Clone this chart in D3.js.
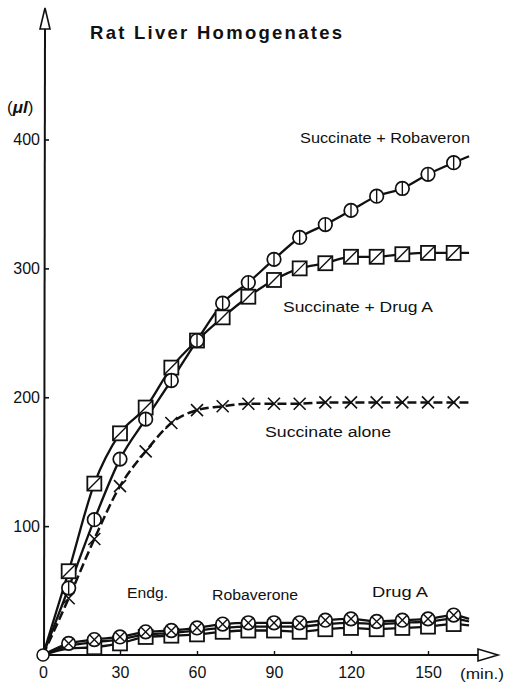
<!DOCTYPE html>
<html>
<head>
<meta charset="utf-8">
<script src="https://cdn.jsdelivr.net/npm/d3@7"></script>
<style>
  body { margin: 0; background: #fff; }
  svg text { font-family: "Liberation Sans", Arial, sans-serif; fill: #111; }
</style>
</head>
<body>
<div id="chart"></div>
<script>
// time points (min.), 0 is the origin and 166 the end of the drawn curves
var times = [0, 10, 20, 30, 40, 50, 60, 70, 80, 90, 100, 110, 120, 130, 140, 150, 160, 166];

// uptake (µl)
var succRobaveron = [0, 52, 105, 152, 183, 213, 244, 273, 289, 307, 324, 334, 345, 356, 362, 373, 382, 387];
var succDrugA     = [0, 65, 133, 172, 192, 223, 244, 262, 278, 291, 300, 304, 309, 309, 311, 312, 312, 312];
var succAlone     = [0, 44, 90, 131, 158, 180, 190, 193, 195, 195, 195, 196, 196, 196, 196, 196, 196, 196];
var robaverone    = [0, 9, 12, 14, 18, 19, 21, 24, 25, 25, 25, 27, 28, 26, 27, 28, 31, 28];
var drugA         = [0, 7, 10, 12, 16, 17, 19, 21, 22, 22, 22, 24, 25, 24, 25, 26, 28, 26];
var endogenous    = [0, 5, 6, 9, 14, 15, 16, 18, 19, 19, 18, 20, 21, 20, 21, 22, 24, 23];

var xTicks = [0, 30, 60, 90, 120, 150];
var yTicks = [100, 200, 300, 400];

var width = 505, height = 684;

var svg = d3.select("#chart").append("svg")
    .attr("width", width)
    .attr("height", height);

svg.append("rect").attr("width", width).attr("height", height).attr("fill", "#fff");

var x = d3.scaleLinear().domain([0, 150]).range([43, 428]);
var y = d3.scaleLinear().domain([0, 400]).range([655, 139.5]);

var axisX = 44, axisY = 655;

// axes
var yAxis = svg.append("g")
    .attr("transform", "translate(" + axisX + ",0)")
    .call(d3.axisLeft(y).tickValues(yTicks).tickSize(-5).tickPadding(4));
yAxis.select(".domain").remove();
yAxis.selectAll("line").attr("stroke-width", 1.6).attr("stroke", "#111");
yAxis.selectAll("text").attr("font-size", 16).attr("font-family", "Liberation Sans, Arial, sans-serif");

var xAxis = svg.append("g")
    .attr("transform", "translate(0," + axisY + ")")
    .call(d3.axisBottom(x).tickValues(xTicks).tickSize(-4).tickPadding(12));
xAxis.select(".domain").remove();
xAxis.selectAll("line").attr("stroke-width", 1.4).attr("stroke", "#111");
xAxis.selectAll("text").attr("font-size", 16).attr("font-family", "Liberation Sans, Arial, sans-serif");

// axis lines with open arrows
svg.append("line").attr("x1", axisX).attr("y1", axisY).attr("x2", axisX + 1).attr("y2", 28)
    .attr("stroke", "#111").attr("stroke-width", 2);
svg.append("path")
    .attr("d", "M" + (axisX + 1) + ",8 L" + (axisX + 6) + ",29 L" + (axisX - 4) + ",29 Z")
    .attr("fill", "#fff").attr("stroke", "#111").attr("stroke-width", 1.6);
svg.append("line").attr("x1", axisX).attr("y1", axisY).attr("x2", 479).attr("y2", axisY)
    .attr("stroke", "#111").attr("stroke-width", 2);
svg.append("path")
    .attr("d", "M498," + axisY + " L478," + (axisY - 6) + " L478," + (axisY + 6) + " Z")
    .attr("fill", "#fff").attr("stroke", "#111").attr("stroke-width", 1.6);

// texts
function label(txt, lx, ly, w, size, opts) {
    var t = svg.append("text")
        .attr("x", lx).attr("y", ly)
        .attr("font-size", size)
        .attr("textLength", w)
        .attr("lengthAdjust", "spacingAndGlyphs")
        .text(txt);
    if (opts && opts.bold) t.attr("font-weight", "bold");
    return t;
}
label("Rat Liver Homogenates", 90, 39, 252, 18.5, { bold: true }).attr("lengthAdjust", "spacing");
var ul = svg.append("text").attr("x", 7).attr("y", 113).attr("font-size", 17);
ul.append("tspan").text("(");
ul.append("tspan").attr("font-style", "italic").attr("font-weight", "bold").text("\u03bcl");
ul.append("tspan").text(")");
label("Succinate + Robaveron", 300, 143, 170, 15.5);
label("Succinate + Drug A", 283, 312, 150, 15.5);
label("Succinate alone", 265, 437, 126, 15.5);
label("Endg.", 127, 598, 41, 15.5);
label("Robaverone", 212, 600, 86, 15.5);
label("Drug A", 372, 597, 56, 15.5);
label("(min.)", 460, 679, 44, 15.5);

var line = d3.line()
    .x(function (d, i) { return x(times[i]); })
    .y(function (d) { return y(d); })
    .curve(d3.curveMonotoneX);

var series = [
    { values: endogenous, marker: "square", firstMark: 2 },
    { values: drugA, marker: "none" },
    { values: robaverone, marker: "ocross", firstMark: 1 },
    { values: succAlone, marker: "x", firstMark: 1, dash: "9,4" },
    { values: succDrugA, marker: "squareSlash", firstMark: 1 },
    { values: succRobaveron, marker: "circleBar", firstMark: 1 }
];

series.forEach(function (s) {
    svg.append("path")
        .attr("d", line(s.values))
        .attr("fill", "none")
        .attr("stroke", "#111")
        .attr("stroke-width", s.dash ? 2.5 : 2.3)
        .attr("stroke-dasharray", s.dash || null);
});

series.forEach(function (s) {
    if (s.marker === "none") return;
    var pts = s.values.map(function (v, i) { return { t: times[i], v: v }; })
        .filter(function (d, i) { return i >= s.firstMark && i < times.length - 1; });
    var g = svg.append("g").selectAll("g").data(pts).enter().append("g")
        .attr("transform", function (d) { return "translate(" + x(d.t) + "," + y(d.v) + ")"; })
        .attr("stroke", "#111").attr("fill", "#fff");
    if (s.marker === "square" || s.marker === "squareSlash") {
        g.append("rect").attr("x", -7).attr("y", -7).attr("width", 14).attr("height", 14)
            .attr("stroke-width", 1.8);
        if (s.marker === "squareSlash") {
            g.append("line").attr("x1", -7).attr("y1", 7).attr("x2", 7).attr("y2", -7).attr("stroke-width", 1.4);
        }
    } else if (s.marker === "circleBar" || s.marker === "ocross") {
        g.append("circle").attr("r", 6.8).attr("stroke-width", 1.7);
        if (s.marker === "circleBar") {
            g.append("line").attr("x1", 0).attr("y1", -6.8).attr("x2", 0).attr("y2", 6.8).attr("stroke-width", 1.4);
        } else {
            g.append("path").attr("d", "M-4.6,-4.6L4.6,4.6M4.6,-4.6L-4.6,4.6").attr("stroke-width", 1.4);
        }
    } else if (s.marker === "x") {
        g.append("path").attr("d", "M-6,-6L6,6M6,-6L-6,6").attr("fill", "none").attr("stroke-width", 1.6);
    }
});

// origin point
svg.append("circle").attr("cx", x(0)).attr("cy", y(0)).attr("r", 6)
    .attr("fill", "#fff").attr("stroke", "#111").attr("stroke-width", 1.5);
</script>
</body>
</html>
